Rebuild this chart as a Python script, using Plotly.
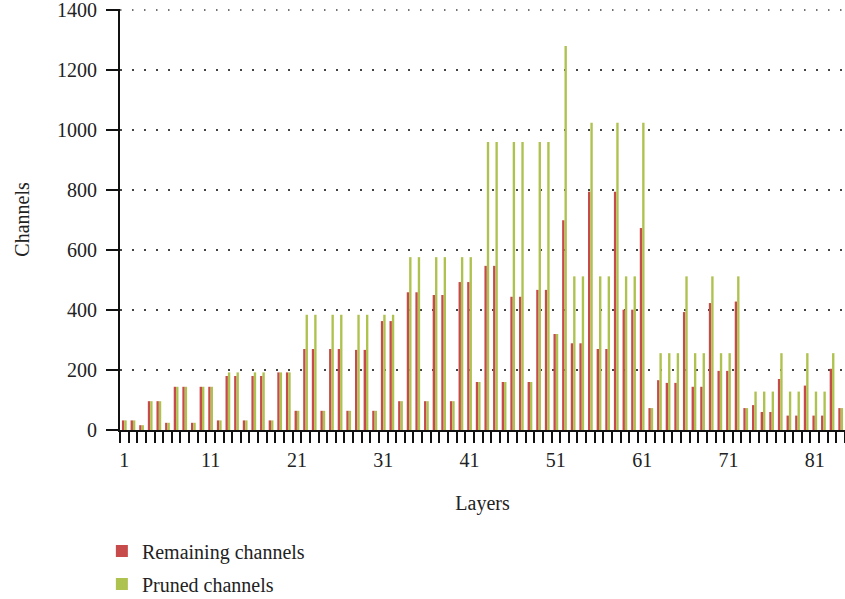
import plotly.graph_objects as go

# Per-layer channel counts (layers 1..84)
layers = list(range(1, 85))

remaining = [
    32, 32, 16, 96, 96, 24, 144, 144, 24, 144,
    144, 32, 180, 180, 32, 180, 180, 32, 192, 192,
    64, 270, 270, 64, 270, 270, 64, 267, 267, 64,
    363, 363, 96, 459, 459, 96, 450, 450, 96, 493,
    493, 160, 547, 547, 160, 444, 444, 160, 467, 467,
    320, 699, 289, 289, 794, 270, 270, 794, 401, 401,
    673, 73, 166, 157, 157, 393, 144, 144, 423, 197,
    197, 428, 73, 83, 60, 60, 170, 48, 48, 148,
    48, 48, 204, 73,
]

pruned = [
    32, 32, 16, 96, 96, 24, 144, 144, 24, 144,
    144, 32, 192, 192, 32, 192, 192, 32, 192, 192,
    64, 384, 384, 64, 384, 384, 64, 384, 384, 64,
    384, 384, 96, 576, 576, 96, 576, 576, 96, 576,
    576, 160, 960, 960, 160, 960, 960, 160, 960, 960,
    320, 1280, 512, 512, 1024, 512, 512, 1024, 512, 512,
    1024, 73, 256, 256, 256, 512, 256, 256, 512, 256,
    256, 512, 73, 128, 128, 128, 256, 128, 128, 256,
    128, 128, 256, 73,
]

x_ticks = [1, 11, 21, 31, 41, 51, 61, 71, 81]
y_ticks = [0, 200, 400, 600, 800, 1000, 1200, 1400]

RED = "#c84b4b"
GREEN = "#aec24f"
FONT = "Liberation Serif"
FSIZE = 20
TXT = "#222222"
GRID = "#444444"
GRID_DASH = "1.5px,10.5px"

fig = go.Figure()
fig.add_trace(go.Bar(
    x=layers, y=remaining, name="Remaining channels", legendgroup="remaining",
    marker=dict(color=RED, line=dict(width=0)),
))
fig.add_trace(go.Bar(
    x=layers, y=pruned, name="Pruned channels", legendgroup="pruned",
    marker=dict(color=GREEN, line=dict(width=0)),
))

# the top gridline sits on the plot edge, so draw it explicitly
fig.add_shape(
    type="line", xref="paper", yref="y", x0=0, x1=1,
    y0=y_ticks[-1], y1=y_ticks[-1],
    line=dict(color=GRID, width=1.5, dash=GRID_DASH), layer="below",
)

fig.update_layout(
    width=845, height=599,
    margin=dict(l=120, r=0, t=9, b=169, autoexpand=False),
    paper_bgcolor="white", plot_bgcolor="white",
    barmode="group", bargap=0.45, bargroupgap=0,
    font=dict(family=FONT, size=FSIZE, color=TXT),
    legend=dict(
        orientation="v", x=-0.025, xanchor="left",
        y=-0.241, yanchor="top",
        font=dict(family=FONT, size=FSIZE, color=TXT),
        bgcolor="rgba(0,0,0,0)", tracegroupgap=4,
        itemclick=False,
    ),
    showlegend=True,
)

fig.update_xaxes(
    range=[0.5, 84.5], tickmode="array", tickvals=x_ticks,
    ticks="outside", ticklen=11, tickcolor="rgba(0,0,0,0)",
    minor=dict(ticks="outside", ticklen=11, tickwidth=1.5,
               tickcolor="#111111", tick0=0.5, dtick=1),
    showline=True, linecolor="#111111", linewidth=1.8,
    showgrid=False, zeroline=False,
    title=dict(text="Layers", standoff=26,
               font=dict(family=FONT, size=FSIZE, color=TXT)),
    automargin=False,
)

fig.update_yaxes(
    range=[0, 1403], tickmode="array", tickvals=y_ticks,
    ticks="outside", ticklen=12, tickwidth=1.5, tickcolor="#111111",
    ticklabelstandoff=5, ticklabeloverflow="allow",
    showline=True, linecolor="#111111", linewidth=1.8,
    showgrid=True, gridcolor=GRID, gridwidth=1.5, griddash=GRID_DASH,
    zeroline=False,
    title=dict(text="Channels", standoff=22,
               font=dict(family=FONT, size=FSIZE, color=TXT)),
    automargin=False,
)

fig.write_html("out.html")
